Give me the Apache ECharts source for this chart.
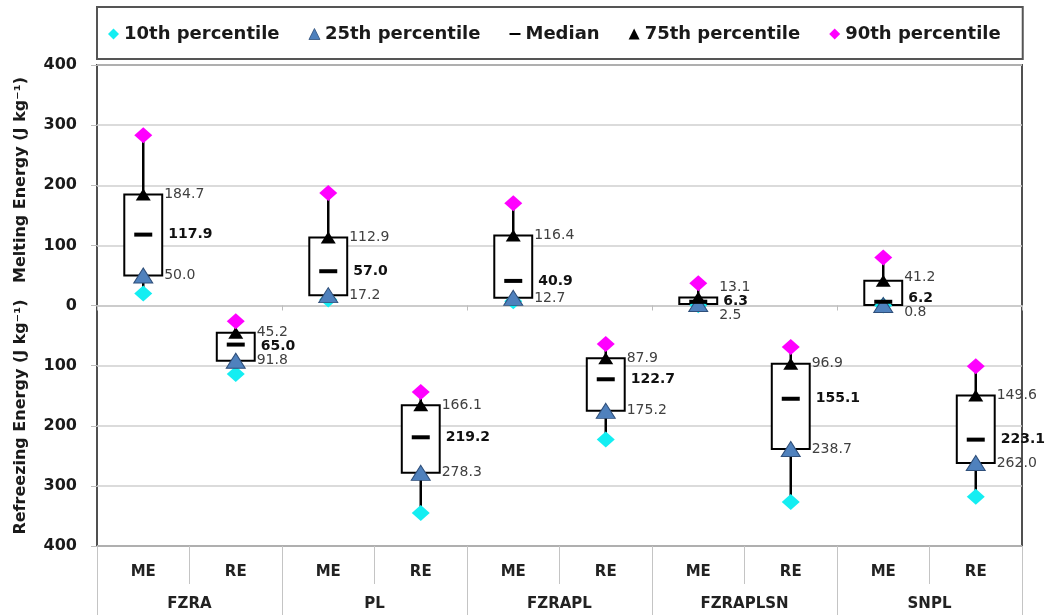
<!DOCTYPE html>
<html><head><meta charset="utf-8">
<script src="https://cdn.jsdelivr.net/npm/echarts@6/dist/echarts.min.js"></script>
<style>html,body{margin:0;padding:0;background:#fff}#c{width:1055px;height:615px}</style>
</head><body><div id="c"></div>
<script>
// ---- data ----
const groups = ['FZRA', 'PL', 'FZRAPL', 'FZRAPLSN', 'SNPL'];
const subCats = ['ME', 'RE'];
const seriesNames = ['10th percentile', '25th percentile', 'Median', '75th percentile', '90th percentile'];
const p10    = [20.0, -114.0, 10.0, -345.0, 7.0, -223.0, 0.4, -327.0, 0.1, -318.0];
const p25    = [50.0, -91.8, 17.2, -278.3, 12.7, -175.2, 2.5, -238.7, 0.8, -262.0];
const median = [117.9, -65.0, 57.0, -219.2, 40.9, -122.7, 6.3, -155.1, 6.2, -223.1];
const p75    = [184.7, -45.2, 112.9, -166.1, 116.4, -87.9, 13.1, -96.9, 41.2, -149.6];
const p90    = [283.0, -26.0, 187.0, -144.0, 170.0, -64.0, 37.0, -69.0, 80.0, -101.0];
const yMin = -400, yMax = 400, yStep = 100;

// ---- build ----
const cats = [];
groups.forEach(g => subCats.forEach(s => cats.push(g + '|' + s)));
const boxData = cats.map((c, i) => [i, p10[i], p25[i], median[i], p75[i], p90[i]]);
const fmt = v => Math.abs(v).toFixed(1);
const FONT = '"DejaVu Sans", sans-serif';

function renderBox(params, api) {
  const i = api.value(0);
  const cx = api.coord([i, 0])[0];
  const Y = k => api.coord([i, api.value(k)])[1];
  const y10 = Y(1), y25 = Y(2), ym = Y(3), y75 = Y(4), y90 = Y(5);
  const bw = api.size([1, 0])[0] * 0.41;
  const top = Math.min(y25, y75), h = Math.abs(y25 - y75);
  const ly = [y75, ym, y25];
  const gap = 14;
  const m0 = (ly[0] + ly[1] + ly[2]) / 3;
  for (let j = 1; j < 3; j++) if (ly[j] < ly[j - 1] + gap) ly[j] = ly[j - 1] + gap;
  const m1 = (ly[0] + ly[1] + ly[2]) / 3;
  for (let j = 0; j < 3; j++) ly[j] -= (m1 - m0);
  const lx = cx + bw / 2 + 2;
  const lineStyle = { stroke: '#000', lineWidth: 2.5 };
  return {
    type: 'group',
    children: [
      { type: 'line', shape: { x1: cx, y1: y90, x2: cx, y2: y75 }, style: lineStyle },
      { type: 'line', shape: { x1: cx, y1: y25, x2: cx, y2: y10 }, style: lineStyle },
      { type: 'rect', shape: { x: cx - bw / 2, y: top, width: bw, height: h },
        style: { fill: '#fff', stroke: '#000', lineWidth: 2 } },
      { type: 'text', x: lx, y: ly[0], z2: 10,
        style: { text: fmt(api.value(4)), fill: '#404040', font: '14px ' + FONT, align: 'left', verticalAlign: 'middle' } },
      { type: 'text', x: lx + 4, y: ly[1], z2: 10,
        style: { text: fmt(api.value(3)), fill: '#111', font: 'bold 14px ' + FONT, align: 'left', verticalAlign: 'middle' } },
      { type: 'text', x: lx, y: ly[2], z2: 10,
        style: { text: fmt(api.value(2)), fill: '#404040', font: '14px ' + FONT, align: 'left', verticalAlign: 'middle' } }
    ]
  };
}

const markerDefs = [
  { vals: p10, symbol: 'diamond', size: [18, 16], color: '#14EEF2' },
  { vals: p25, symbol: 'triangle', size: [19, 15], color: '#4F81BD', border: '#2F4F7A' },
  { vals: median, symbol: 'rect', size: [18, 4], color: '#000' },
  { vals: p75, symbol: 'triangle', size: [15, 12], color: '#000' },
  { vals: p90, symbol: 'diamond', size: [18, 16], color: '#FF00FF' }
];
const legendIcons = ['diamond', 'triangle', 'path://M0,0H16V3H0Z', 'triangle', 'diamond'];

const scatterSeries = markerDefs.map((d, k) => ({
  name: seriesNames[k],
  type: 'scatter',
  xAxisIndex: 0, yAxisIndex: 0,
  symbol: d.symbol,
  symbolSize: d.size,
  z: 5,
  itemStyle: { color: d.color, borderColor: d.border || d.color, borderWidth: d.border ? 1 : 0, opacity: 1 },
  emphasis: { disabled: true },
  data: d.vals.map((v, i) => [i, v])
}));

const chart = echarts.init(document.getElementById('c'), null, { renderer: 'canvas' });
chart.setOption({
  backgroundColor: '#fff',
  animation: false,
  legend: {
    left: 97, top: 7,
    padding: [18, 22, 16, 11],
    itemGap: 29, itemWidth: 11, itemHeight: 11,
    borderColor: '#555', borderWidth: 2, borderRadius: 0,
    textStyle: { fontFamily: FONT, fontWeight: 'bold', fontSize: 18, color: '#1a1a1a' },
    data: seriesNames.map((n, k) => ({
      name: n, icon: legendIcons[k],
      itemStyle: { color: markerDefs[k].color, borderColor: markerDefs[k].border || markerDefs[k].color, borderWidth: markerDefs[k].border ? 0.8 : 0 }
    }))
  },
  grid: {
    left: 97, right: 33, top: 65, bottom: 69,
    show: true, borderColor: '#505050', borderWidth: 2, backgroundColor: 'transparent',
    containLabel: false, outerBoundsMode: 'none'
  },
  xAxis: [
    {
      type: 'category', data: cats, position: 'bottom',
      axisLine: { onZero: true, lineStyle: { color: '#c8c8c8', width: 1.5 } },
      axisTick: { show: true, length: 5, lineStyle: { color: '#bdbdbd' } },
      axisLabel: { show: false }, splitLine: { show: false }
    },
    {
      type: 'category', data: cats, position: 'bottom',
      axisLine: { show: false, onZero: false },
      axisTick: { show: true, length: 38, lineStyle: { color: '#c4c4c4' } },
      axisLabel: { interval: 0, margin: 19, formatter: v => v.split('|')[1],
        fontFamily: FONT, fontWeight: 'bold', fontSize: 15, color: '#222' },
      splitLine: { show: false }
    },
    {
      type: 'category', data: groups, position: 'bottom',
      axisLine: { show: false, onZero: false },
      axisTick: { show: true, length: 70, lineStyle: { color: '#c4c4c4' } },
      axisLabel: { interval: 0, margin: 51, fontFamily: FONT, fontWeight: 'bold', fontSize: 15, color: '#222' },
      splitLine: { show: false }
    }
  ],
  yAxis: {
    type: 'value', min: yMin, max: yMax, interval: yStep,
    axisLine: { show: false },
    axisTick: { show: true, length: 6, lineStyle: { color: '#bdbdbd' } },
    axisLabel: { margin: 20, formatter: v => String(Math.abs(v)),
      fontFamily: FONT, fontWeight: 'bold', fontSize: 16, color: '#1a1a1a' },
    splitLine: { show: true, lineStyle: { color: '#cfcfcf', width: 1.5 } }
  },
  graphic: [
    { type: 'text', x: 21, y: 180, rotation: Math.PI / 2,
      style: { text: 'Melting Energy (J kg⁻¹)', font: 'bold 16px ' + FONT, fill: '#1a1a1a', align: 'center', verticalAlign: 'middle' } },
    { type: 'text', x: 21, y: 417, rotation: Math.PI / 2,
      style: { text: 'Refreezing Energy (J kg⁻¹)', font: 'bold 16px ' + FONT, fill: '#1a1a1a', align: 'center', verticalAlign: 'middle' } }
  ],
  series: [
    {
      name: 'box', type: 'custom', xAxisIndex: 0, yAxisIndex: 0, z: 3,
      dimensions: ['cat', 'p10', 'p25', 'med', 'p75', 'p90'],
      encode: { x: 0, y: [1, 2, 3, 4, 5] },
      renderItem: renderBox,
      data: boxData,
      silent: true
    }
  ].concat(scatterSeries)
});
</script>
</body></html>
